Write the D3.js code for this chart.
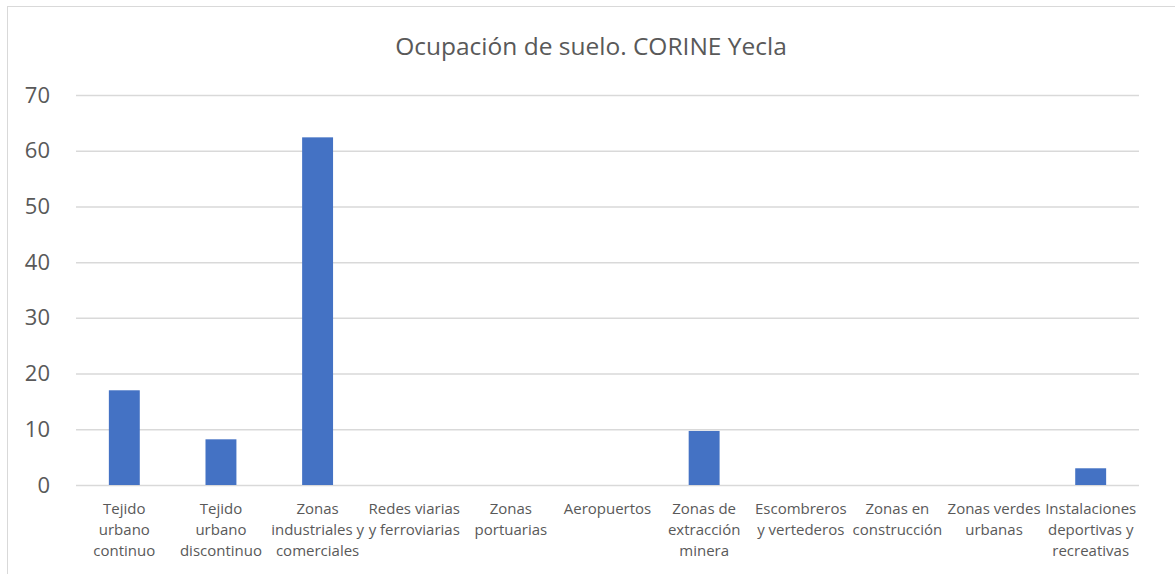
<!DOCTYPE html>
<html>
<head>
<meta charset="utf-8">
<script src="https://cdn.jsdelivr.net/npm/d3@7"></script>
<style>
  body { margin: 0; background: #fff; }
  svg { display: block; font-family: "Open Sans", sans-serif; }
</style>
</head>
<body>
<svg id="chart" width="1175" height="574"></svg>
<script>
var TITLE = "Ocupación de suelo. CORINE Yecla";

// one entry per category, lines already split as in the picture
var categories = [
    ["Tejido", "urbano", "continuo"],
    ["Tejido", "urbano", "discontinuo"],
    ["Zonas", "industriales y", "comerciales"],
    ["Redes viarias", "y ferroviarias"],
    ["Zonas", "portuarias"],
    ["Aeropuertos"],
    ["Zonas de", "extracción", "minera"],
    ["Escombreros", "y vertederos"],
    ["Zonas en", "construcción"],
    ["Zonas verdes", "urbanas"],
    ["Instalaciones", "deportivas y", "recreativas"]
];
var values = [17, 8.2, 62.4, 0, 0, 0, 9.7, 0, 0, 0, 3];
var yTicks = [0, 10, 20, 30, 40, 50, 60, 70];

var TEXT = "#595959", GRID = "#d9d9d9", BAR = "#4472c4";

var svg = d3.select("#chart");
var margin = { left: 76, right: 1139, top: 95, bottom: 485 };

// outer frame of the chart area
svg.append("rect")
    .attr("x", 7.5).attr("y", 6.5)
    .attr("width", 1190).attr("height", 600)
    .attr("fill", "none").attr("stroke", GRID);

svg.append("text")
    .attr("x", 591).attr("y", 55)
    .attr("text-anchor", "middle")
    .attr("font-size", 24.5)
    .attr("fill", TEXT)
    .text(TITLE);

var x = d3.scaleBand()
    .domain(d3.range(categories.length))
    .range([margin.left, margin.right])
    .paddingInner(0.68)
    .paddingOuter(0.34);

var y = d3.scaleLinear()
    .domain([0, 70])
    .range([margin.bottom, margin.top]);

// gridlines + y labels via axis
var yAxis = svg.append("g")
    .attr("transform", "translate(" + margin.left + ",0)")
    .call(d3.axisLeft(y).tickValues(yTicks).tickSize(-(margin.right - margin.left)).tickPadding(26));
yAxis.select(".domain").remove();
yAxis.selectAll(".tick line").attr("stroke", GRID).attr("stroke-width", 1.5);
yAxis.selectAll(".tick text")
    .attr("font-family", "Open Sans, sans-serif")
    .attr("font-size", 22)
    .attr("fill", TEXT);

svg.append("g").selectAll("rect")
    .data(values)
    .enter()
    .append("rect")
    .attr("x", function(d, i) { return x(i); })
    .attr("y", function(d) { return y(d); })
    .attr("width", x.bandwidth())
    .attr("height", function(d) { return y(0) - y(d); })
    .attr("fill", BAR);

// category labels, multi line
var labels = svg.append("g").selectAll("text")
    .data(categories)
    .enter()
    .append("text")
    .attr("text-anchor", "middle")
    .attr("font-size", 15)
    .attr("fill", TEXT)
    .attr("transform", function(d, i) {
        return "translate(" + (x(i) + x.bandwidth() / 2) + ",514)";
    });
labels.selectAll("tspan")
    .data(function(d) { return d; })
    .enter()
    .append("tspan")
    .attr("x", 0)
    .attr("y", function(d, i) { return i * 21; })
    .text(function(d) { return d; });
</script>
</body>
</html>
